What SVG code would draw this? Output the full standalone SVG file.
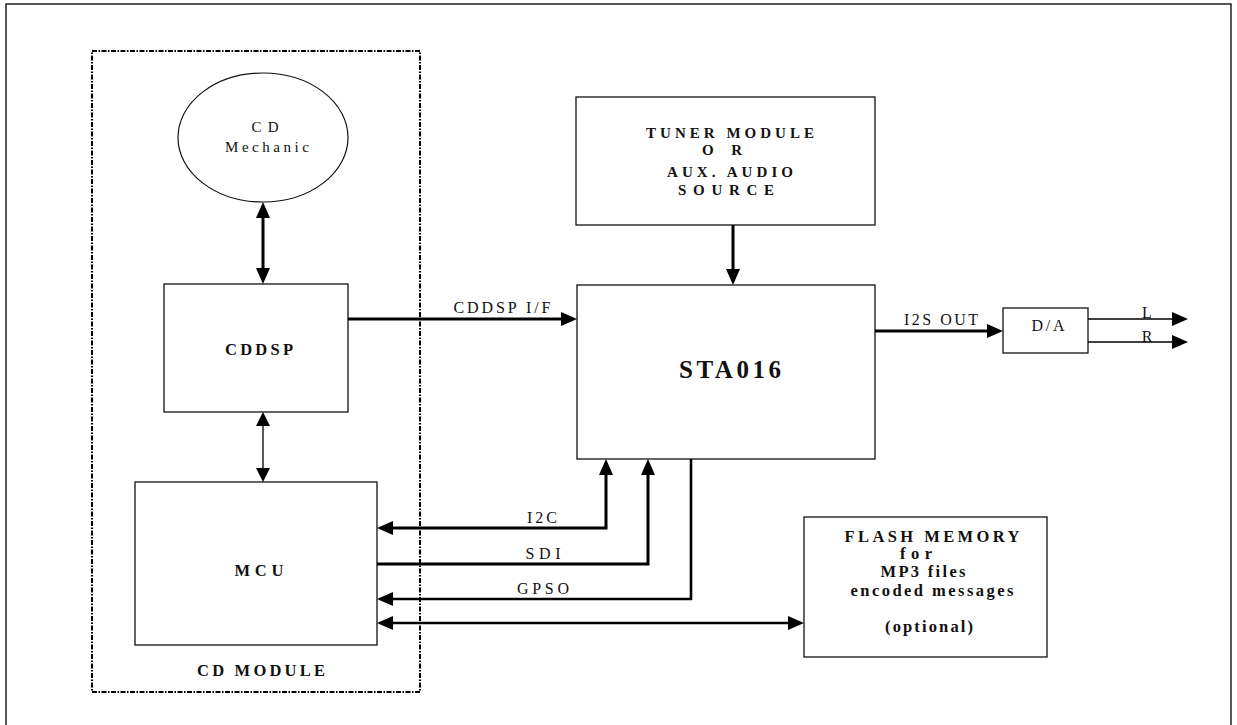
<svg xmlns="http://www.w3.org/2000/svg" width="1237" height="725" viewBox="0 0 1237 725">
<style>
  .box{fill:#fff;stroke:#111;stroke-width:1.3}
  .thick{fill:none;stroke:#000;stroke-width:3}
  .thin{fill:none;stroke:#000;stroke-width:1.3}
  text{font-family:"Liberation Serif","Times New Roman",serif;fill:#111;text-anchor:middle}
  .b{font-weight:bold;font-size:16.5px}
  .t{font-weight:bold;font-size:15px}
  .r{font-size:16px}
  .m{font-size:15px}
</style>
<defs>
  <marker id="ah" viewBox="0 0 16 14" refX="12" refY="7" markerWidth="16" markerHeight="14" markerUnits="userSpaceOnUse" orient="auto-start-reverse">
    <path d="M0,0 L16,7 L0,14 z" fill="#000"/>
  </marker>
  <marker id="ahs" viewBox="0 0 14 14" refX="11" refY="7" markerWidth="14" markerHeight="14" markerUnits="userSpaceOnUse" orient="auto-start-reverse">
    <path d="M0,0 L14,7 L0,14 z" fill="#000"/>
  </marker>
</defs>
<rect x="6" y="4" width="1225" height="780" fill="none" stroke="#222" stroke-width="1.5"/>
<g id="cd-module">
  <rect x="92" y="51" width="328" height="641" fill="none" stroke="#000" stroke-width="2" stroke-dasharray="5 1.5 1.5 1.5"/>
  <text class="b" x="261" y="676" textLength="128" lengthAdjust="spacing">CD MODULE</text>
</g>
<g id="cd-mechanic">
  <ellipse cx="263" cy="137.5" rx="85" ry="64.5" fill="#fff" stroke="#111" stroke-width="1.2"/>
  <text class="m" x="265" y="132" textLength="27" lengthAdjust="spacing">CD</text>
  <text class="m" x="267" y="152" textLength="84" lengthAdjust="spacing">Mechanic</text>
</g>
<g id="cddsp">
  <rect class="box" x="164" y="284" width="184" height="128"/>
  <text class="b" x="259" y="355" textLength="68" lengthAdjust="spacing">CDDSP</text>
</g>
<g id="mcu">
  <rect class="box" x="135" y="482" width="242" height="163"/>
  <text class="b" x="259" y="576" textLength="49" lengthAdjust="spacing">MCU</text>
</g>
<g id="tuner">
  <rect class="box" x="576" y="97" width="299" height="128"/>
  <text class="t" x="730" y="138" textLength="168" lengthAdjust="spacing">TUNER MODULE</text>
  <text class="t" x="722" y="155" textLength="40" lengthAdjust="spacing">OR</text>
  <text class="t" x="730" y="177" textLength="126" lengthAdjust="spacing">AUX. AUDIO</text>
  <text class="t" x="726" y="195" textLength="96" lengthAdjust="spacing">SOURCE</text>
</g>
<g id="sta016">
  <rect class="box" x="577" y="285" width="298" height="174"/>
  <text style="font-size:25px;font-weight:bold" x="730" y="378" textLength="102" lengthAdjust="spacing">STA016</text>
</g>
<g id="da">
  <rect class="box" x="1003" y="308" width="85" height="45"/>
  <text class="r" x="1048" y="331" textLength="33" lengthAdjust="spacing">D/A</text>
</g>
<g id="flash">
  <rect class="box" x="804" y="517" width="243" height="140"/>
  <text class="b" x="932" y="542" textLength="175" lengthAdjust="spacing">FLASH MEMORY</text>
  <text class="b" x="916" y="559" textLength="32" lengthAdjust="spacing">for</text>
  <text class="b" x="923" y="577" textLength="85" lengthAdjust="spacing">MP3 files</text>
  <text class="b" x="932" y="596" textLength="163" lengthAdjust="spacing">encoded messages</text>
  <text class="b" x="929" y="632" textLength="88" lengthAdjust="spacing">(optional)</text>
</g>
<g id="connectors">
  <path class="thick" d="M263,206 V280" marker-start="url(#ah)" marker-end="url(#ah)"/>
  <path class="thin" d="M263,415 V479" marker-start="url(#ahs)" marker-end="url(#ahs)"/>
  <path class="thick" d="M348,319 H573" marker-end="url(#ah)"/>
  <path class="thick" d="M733,225 V281" marker-end="url(#ah)"/>
  <path class="thick" d="M875,331 H999" marker-end="url(#ah)"/>
  <path class="thin" d="M1088,319 H1184" marker-end="url(#ah)"/>
  <path class="thin" d="M1088,342 H1184" marker-end="url(#ah)"/>
  <path class="thick" d="M381,528 H606 V463" marker-start="url(#ah)" marker-end="url(#ah)"/>
  <path class="thick" d="M377,564 H648 V463" marker-end="url(#ah)"/>
  <path class="thick" style="stroke-width:2.6" d="M691,459 V599 H381" marker-end="url(#ah)"/>
  <path class="thick" style="stroke-width:2.6" d="M381,623 H800" marker-start="url(#ah)" marker-end="url(#ah)"/>
  <text class="r" x="502" y="313" textLength="97" lengthAdjust="spacing">CDDSP I/F</text>
  <text class="r" x="941" y="325" textLength="74" lengthAdjust="spacing">I2S OUT</text>
  <text class="r" x="1147" y="318">L</text>
  <text class="r" x="1147" y="342">R</text>
  <text class="r" x="542" y="523" textLength="30" lengthAdjust="spacing">I2C</text>
  <text class="r" x="543" y="559" textLength="35" lengthAdjust="spacing">SDI</text>
  <text class="r" x="543" y="594" textLength="52" lengthAdjust="spacing">GPSO</text>
</g>
</svg>
